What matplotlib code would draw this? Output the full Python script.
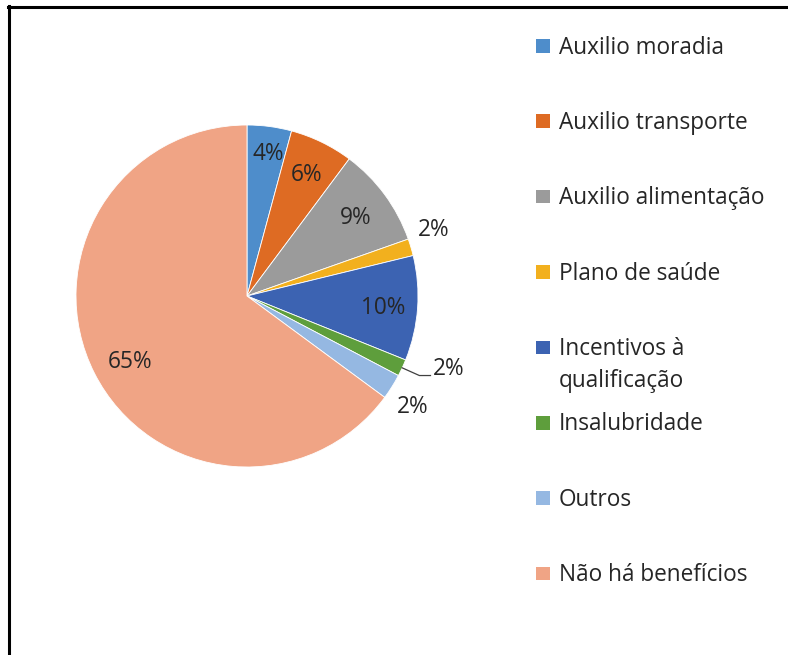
import numpy as np
import matplotlib
matplotlib.use("Agg")
import matplotlib.pyplot as plt
from matplotlib.lines import Line2D
from matplotlib.patches import Rectangle

categories = ["Auxilio moradia", "Auxilio transporte", "Auxilio alimentação",
              "Plano de saúde", "Incentivos à\nqualificação", "Insalubridade",
              "Outros", "Não há benefícios"]
values = [4.2, 6.0, 9.4, 1.6, 9.9, 1.6, 2.4, 64.9]
labels = ["4%", "6%", "9%", "2%", "10%", "2%", "2%", "65%"]
colors = ["#4E8DCB", "#DE6B23", "#9B9B9B", "#F2B01E", "#3C63B2", "#5E9E3C",
          "#95B8E2", "#F0A485"]

# label placement style: (radial factor, angle offset deg)
lab_style = [(0.85, -1), (0.80, 0), (0.79, 0), (1.16, 3.5), (0.80, 0),
             (1.25, 5.3), (1.16, -1.3), (0.78, 2)]
leader = [False, False, False, False, False, True, False, False]

plt.rcParams['font.family'] = ['Open Sans', 'DejaVu Sans']
txt_color = "#262626"
fs = 16.3

fig = plt.figure(figsize=(7.88, 6.55), dpi=100)
W, H = 788, 655
cx, cy, r = 247, 296, 171
ax = fig.add_axes([(cx - r) / W, (H - cy - r) / H, 2 * r / W, 2 * r / H])
wedges, _ = ax.pie(values, colors=colors, startangle=90, counterclock=False,
                   radius=1.0, wedgeprops=dict(linewidth=0.6, edgecolor="white"))
ax.set_xlim(-1, 1)
ax.set_ylim(-1, 1)
ax.set_aspect("equal")
ax.axis("off")

for w, lab, (rf, aoff), ld in zip(wedges, labels, lab_style, leader):
    mid = np.deg2rad((w.theta1 + w.theta2) / 2)
    ang = mid + np.deg2rad(aoff)
    x, y = rf * np.cos(ang), rf * np.sin(ang)
    ax.text(x, y - 0.01, lab, ha="center", va="center", fontsize=fs,
            color=txt_color, clip_on=False)
    if ld:
        sx, sy = np.cos(mid), np.sin(mid)
        ey = y - 0.047
        ax.add_line(Line2D([sx, x - 0.17, x - 0.105], [sy, ey, ey],
                           color="#404040", lw=0.9, clip_on=False))

# legend (manual, Excel-like)
y0, dy = 46, 75.4
for i, (cat, col) in enumerate(zip(categories, colors)):
    yc = y0 + i * dy
    fig.patches.append(Rectangle((536 / W, 1 - (yc + 6.5) / H), 13.5 / W, 13.5 / H,
                                 transform=fig.transFigure, facecolor=col,
                                 edgecolor="none"))
    lines = cat.split("\n")
    for j, ln in enumerate(lines):
        fig.text(559 / W, 1 - (yc + 1.5 + j * 32) / H, ln, ha="left", va="center",
                 fontsize=fs, color=txt_color)

# frame lines (top and left)
fig.add_artist(Line2D([8 / W, 1], [1 - 7 / H, 1 - 7 / H], color="black", lw=2.2,
                      transform=fig.transFigure))
fig.add_artist(Line2D([9 / W, 9 / W], [0, 1 - 6 / H], color="black", lw=2.2,
                      transform=fig.transFigure))

fig.savefig("out.png", dpi=100)
